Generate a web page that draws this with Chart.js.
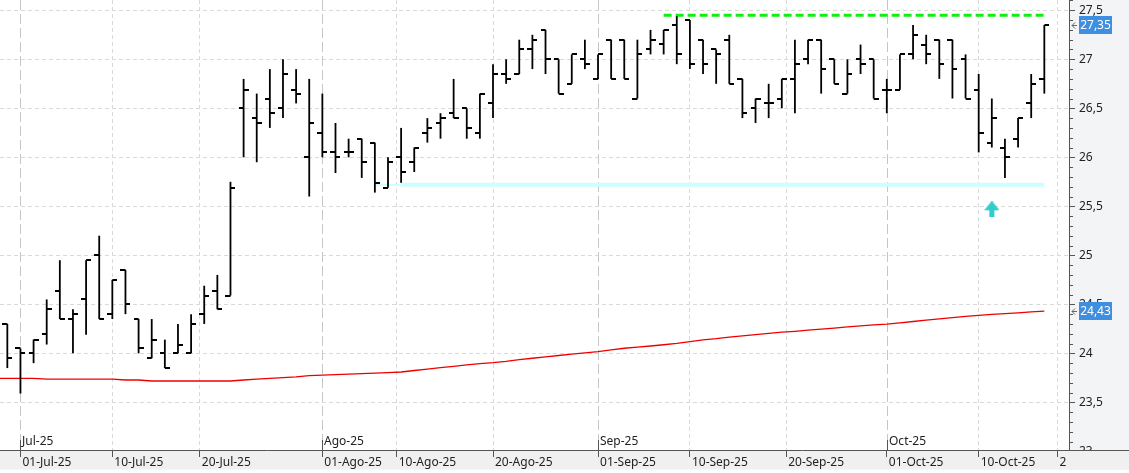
<!DOCTYPE html>
<html><head><meta charset="utf-8">
<script src="https://cdn.jsdelivr.net/npm/chart.js@4/dist/chart.umd.min.js"></script>
<style>html,body{margin:0;padding:0;background:#fff;overflow:hidden}canvas{display:block}</style>
</head><body>
<canvas id="c" width="1129" height="473"></canvas>
<script>
// ---------- DATA ----------
const sessions = [
 '2025-06-30','2025-07-01','2025-07-02','2025-07-03','2025-07-04',
 '2025-07-07','2025-07-08','2025-07-09','2025-07-10','2025-07-11',
 '2025-07-14','2025-07-15','2025-07-16','2025-07-17','2025-07-18',
 '2025-07-21','2025-07-22','2025-07-23','2025-07-24','2025-07-25',
 '2025-07-28','2025-07-29','2025-07-30','2025-07-31','2025-08-01',
 '2025-08-04','2025-08-05','2025-08-06','2025-08-07','2025-08-08',
 '2025-08-11','2025-08-12','2025-08-13','2025-08-14','2025-08-15',
 '2025-08-18','2025-08-19','2025-08-20','2025-08-21','2025-08-22',
 '2025-08-25','2025-08-26','2025-08-27','2025-08-28','2025-08-29',
 '2025-09-01','2025-09-02','2025-09-03','2025-09-04','2025-09-05',
 '2025-09-08','2025-09-09','2025-09-10','2025-09-11','2025-09-12',
 '2025-09-15','2025-09-16','2025-09-17','2025-09-18','2025-09-19',
 '2025-09-22','2025-09-23','2025-09-24','2025-09-25','2025-09-26',
 '2025-09-29','2025-09-30','2025-10-01','2025-10-02','2025-10-03',
 '2025-10-06','2025-10-07','2025-10-08','2025-10-09','2025-10-10',
 '2025-10-13','2025-10-14','2025-10-15','2025-10-16','2025-10-17'
];
const open = [
 24.30,24.05,24.00,24.20,24.64, 24.35,24.55,25.00,24.40,24.85,
 24.35,23.95,24.00,24.00,24.00, 24.40,24.64,24.59,26.50,26.40,
 26.60,26.50,26.69,26.00,26.25, 26.05,26.05,26.19,26.15,25.69,
 26.00,25.95,26.25,26.35,26.45, 26.50,26.25,26.55,26.85,26.85,
 27.10,27.30,27.00,26.75,27.00, 26.80,27.20,27.20,26.60,27.10,
 27.16,27.35,27.40,27.20,27.10, 27.20,26.80,26.50,26.55,26.60,
 26.80,27.00,27.20,27.00,26.65, 27.00,27.00,26.69,26.69,27.05,
 27.15,27.20,27.20,27.00,26.69, 26.15,26.10,26.19,26.55,26.80
];
const high = [
 24.30,24.05,24.14,24.55,24.95, 24.45,24.95,25.20,24.75,24.85,
 24.35,24.35,24.14,24.30,24.40, 24.69,24.80,25.75,26.80,26.65,
 26.90,27.00,26.90,26.80,26.65, 26.35,26.19,26.19,26.15,26.00,
 26.30,26.10,26.40,26.45,26.80, 26.50,26.65,26.95,27.00,27.20,
 27.25,27.30,27.00,27.05,27.20, 27.05,27.20,27.20,27.20,27.30,
 27.30,27.44,27.40,27.20,27.10, 27.25,26.80,26.60,26.75,26.80,
 27.20,27.20,27.20,27.00,27.00, 27.15,27.00,26.80,27.05,27.35,
 27.25,27.20,27.20,27.05,26.85, 26.60,26.19,26.40,26.85,27.35
];
const low = [
 23.85,23.59,23.90,24.09,24.35, 24.00,24.19,24.35,24.35,24.40,
 24.00,23.95,23.85,24.00,24.00, 24.30,24.45,24.59,26.00,25.95,
 26.30,26.40,26.55,25.60,26.00, 25.84,26.00,25.79,25.64,25.69,
 25.74,25.85,26.15,26.19,26.40, 26.19,26.19,26.40,26.75,26.85,
 26.90,26.85,26.65,26.75,26.90, 26.80,26.80,26.80,26.60,27.05,
 27.05,26.95,26.90,26.85,26.75, 26.75,26.40,26.35,26.40,26.50,
 26.45,26.95,26.65,26.75,26.65, 26.85,26.60,26.45,26.69,27.00,
 26.95,26.80,26.60,26.60,26.05, 26.10,25.79,26.10,26.40,26.65
];
const close = [
 23.95,24.00,24.14,24.45,24.35, 24.40,24.95,24.35,24.75,24.50,
 24.05,24.14,23.85,24.09,24.30, 24.59,24.45,25.69,26.69,26.35,
 26.45,26.85,26.65,26.35,26.05, 26.00,26.05,25.95,25.74,25.95,
 25.85,26.10,26.30,26.40,26.40, 26.30,26.65,26.85,26.80,27.10,
 27.20,27.00,26.65,27.05,26.95, 27.05,26.80,26.80,27.05,27.20,
 27.30,27.05,26.95,26.95,27.05, 26.75,26.45,26.60,26.55,26.80,
 26.95,27.20,26.90,26.75,26.85, 26.95,26.60,26.69,27.05,27.25,
 27.05,26.95,26.90,26.60,26.25, 26.40,26.00,26.40,26.75,27.35
];
const ma200Before = 23.745; // session before 30-Jun-25
const ma200 = [
 23.745,23.745,23.745,23.738,23.738, 23.738,23.738,23.738,23.738,23.728,
 23.728,23.718,23.718,23.718,23.718, 23.718,23.718,23.718,23.728,23.738,
 23.745,23.752,23.760,23.772,23.778, 23.784,23.788,23.793,23.798,23.803,
 23.810,23.825,23.840,23.854,23.868, 23.883,23.895,23.905,23.918,23.935,
 23.950,23.964,23.978,23.992,24.005, 24.017,24.035,24.052,24.064,24.075,
 24.088,24.102,24.120,24.138,24.150, 24.165,24.178,24.191,24.204,24.216,
 24.225,24.236,24.247,24.258,24.270, 24.280,24.290,24.299,24.312,24.325,
 24.338,24.352,24.364,24.377,24.388, 24.398,24.405,24.414,24.423,24.430
];
const resistanceLevel = 27.45, resistanceFrom = '2025-09-08', resistanceTo = '2025-10-17';
const supportLevel = 25.72, supportFrom = '2025-08-07', supportMid = '2025-08-11', supportTo = '2025-10-17';
const signalDate = '2025-10-13', signalLevel = 25.47;
const dayTickDates = ['2025-07-01','2025-07-10','2025-07-20','2025-08-01','2025-08-10','2025-08-20',
                      '2025-09-01','2025-09-10','2025-09-20','2025-10-01','2025-10-10','2025-10-20'];
const dayTickLabels = ['01-Jul-25','10-Jul-25','20-Jul-25','01-Ago-25','10-Ago-25','20-Ago-25',
                       '01-Sep-25','10-Sep-25','20-Sep-25','01-Oct-25','10-Oct-25','20-Oct-25'];
const monthTickDates = ['2025-07-01','2025-08-01','2025-09-01','2025-10-01'];
const monthTickLabels = ['Jul-25','Ago-25','Sep-25','Oct-25'];
const yMajorTicks = [23, 23.5, 24, 24.5, 25, 25.5, 26, 26.5, 27, 27.5];

// ---------- helpers ----------
const DAY = 86400000;
const sessT = sessions.map(s => Date.parse(s + 'T00:00:00Z'));
function dateToIndex(d) {
  const t = Date.parse(d + 'T00:00:00Z');
  for (let i = 0; i < sessT.length; i++) {
    if (sessT[i] === t) return i;
    if (sessT[i] > t) return i - 1 + (t - sessT[i - 1]) / (sessT[i] - sessT[i - 1]);
  }
  let idx = sessT.length - 1, cur = sessT[sessT.length - 1];
  while (cur < t) { cur += DAY; const wd = new Date(cur).getUTCDay(); if (wd !== 0 && wd !== 6) idx++; }
  return idx;
}
const fmt = v => String(+v.toFixed(2)).replace('.', ',');
const dayTickPos = dayTickDates.map(dateToIndex);
const monthTickPos = monthTickDates.map(dateToIndex);
const isMonthPos = v => monthTickPos.some(m => Math.abs(m - v) < 1e-6);

function tickImg(side) {
  const c = document.createElement('canvas'); c.width = 10; c.height = 2;
  const g = c.getContext('2d'); g.fillStyle = '#000';
  if (side === 'L') g.fillRect(0, 0, 5, 2); else g.fillRect(5, 0, 5, 2);
  return c;
}
function arrowImg() {
  const c = document.createElement('canvas'); c.width = 15; c.height = 16;
  const g = c.getContext('2d'); g.fillStyle = '#33cccc';
  g.beginPath(); g.moveTo(7, 0); g.lineTo(8, 0); g.lineTo(15, 9); g.lineTo(0, 9); g.closePath(); g.fill();
  g.fillRect(5, 9, 5, 7);
  return c;
}

const rangeData = sessions.map((d, i) => ({x: i, y: [low[i], high[i]]}));
const openData = sessions.map((d, i) => ({x: i, y: open[i]}));
const closeData = sessions.map((d, i) => ({x: i, y: close[i]}));
const maData = [{x: -1, y: ma200Before}].concat(ma200.map((v, i) => ({x: i, y: v})));
const resData = [{x: dateToIndex(resistanceFrom), y: resistanceLevel}, {x: dateToIndex(resistanceTo), y: resistanceLevel}];
const supThin = [{x: dateToIndex(supportFrom), y: supportLevel}, {x: dateToIndex(supportMid), y: supportLevel}];
const supThick = [{x: dateToIndex(supportMid), y: supportLevel}, {x: dateToIndex(supportTo), y: supportLevel}];
const sigData = [{x: dateToIndex(signalDate), y: signalLevel}];

Chart.defaults.font.family = "'Noto Sans', 'DejaVu Sans', sans-serif";
Chart.defaults.font.size = 12;

const PANEL = '#f3f4f6', BAND = '#f0f0f0', AXIS = '#555555', GRID = '#d9d9d9', TEXT = '#222222';

const deco = {
  id: 'deco',
  beforeDraw(chart) {
    const {ctx, chartArea: a, width, height} = chart;
    ctx.save();
    ctx.fillStyle = '#ffffff'; ctx.fillRect(0, 0, width, height);
    ctx.fillStyle = PANEL; ctx.fillRect(a.right, 0, width - a.right, a.bottom);
    ctx.fillStyle = BAND; ctx.fillRect(0, a.bottom, width, 19.5);
    ctx.restore();
  },
  beforeDatasetsDraw(chart) {
    const {ctx, chartArea: a, scales: {x}} = chart;
    ctx.save();
    ctx.strokeStyle = '#c6c6c6'; ctx.lineWidth = 1; ctx.setLineDash([10, 4]);
    monthTickPos.forEach(m => {
      const px = Math.round(x.getPixelForValue(m)) + 0.5;
      ctx.beginPath(); ctx.moveTo(px, a.top); ctx.lineTo(px, a.bottom - 10); ctx.stroke();
    });
    ctx.restore();
  },
  afterDraw(chart) {
    const {ctx, chartArea: a, scales: {x, y}, width} = chart;
    ctx.save();
    // the last date label is cut by the price panel
    ctx.fillStyle = BAND; ctx.fillRect(a.right - 3, a.bottom + 1, width - a.right + 3, 18.5);
    ctx.strokeStyle = AXIS; ctx.lineWidth = 1;
    ctx.beginPath(); ctx.moveTo(a.right, a.bottom + 0.5); ctx.lineTo(width, a.bottom + 0.5); ctx.stroke();
    // minor ticks on price axis
    for (let k = 231; k <= 276; k++) {
      if (k % 5 === 0) continue;
      const py = Math.round(y.getPixelForValue(k / 10)) + 0.5;
      if (py < a.top || py > a.bottom) continue;
      ctx.beginPath(); ctx.moveTo(a.right, py); ctx.lineTo(a.right + 4, py); ctx.stroke();
    }
    // month ticks + labels
    ctx.fillStyle = TEXT; ctx.font = "12px 'Noto Sans', 'DejaVu Sans', sans-serif";
    ctx.textAlign = 'left'; ctx.textBaseline = 'middle';
    monthTickPos.forEach((m, i) => {
      const px = Math.round(x.getPixelForValue(m)) + 0.5;
      ctx.beginPath(); ctx.moveTo(px, a.bottom - 10); ctx.lineTo(px, a.bottom); ctx.stroke();
      ctx.fillText(monthTickLabels[i], px + 1.5, a.bottom - 8.5);
    });
    // last value tags
    const tag = v => {
      const py = y.getPixelForValue(v);
      ctx.fillStyle = '#3f8fe0';
      ctx.fillRect(a.right + 10, Math.round(py) - 9, 33, 18);
      ctx.fillStyle = '#ffffff'; ctx.textAlign = 'center';
      ctx.fillText(fmt(v), a.right + 26.5, Math.round(py) + 0.5);
      ctx.strokeStyle = '#666'; ctx.lineWidth = 1;
      const yy = Math.round(py) + 0.5;
      ctx.beginPath();
      ctx.moveTo(a.right + 6, yy - 3); ctx.lineTo(a.right + 3, yy); ctx.lineTo(a.right + 6, yy + 3);
      ctx.moveTo(a.right + 3, yy); ctx.lineTo(a.right + 8, yy);
      ctx.stroke();
    };
    tag(close[close.length - 1]);
    tag(ma200[ma200.length - 1]);
    ctx.restore();
  }
};

new Chart(document.getElementById('c'), {
  type: 'bar',
  data: {
    datasets: [
      {type: 'scatter', data: openData, pointStyle: tickImg('L'), pointRadius: 3, order: 0},
      {type: 'scatter', data: closeData, pointStyle: tickImg('R'), pointRadius: 3, order: 0},
      {type: 'bar', data: rangeData, backgroundColor: '#000000', barThickness: 1.8, borderWidth: 0, inflateAmount: 0, order: 1},
      {type: 'line', data: maData, borderColor: '#ee0000', borderWidth: 1.3, pointRadius: 0, fill: false, tension: 0, order: 3},
      {type: 'line', data: resData, borderColor: '#11ee11', borderWidth: 3, borderDash: [8, 4], borderCapStyle: 'butt', pointRadius: 0, fill: false, order: 4},
      {type: 'line', data: supThin, borderColor: '#ccffff', borderWidth: 2, pointRadius: 0, fill: false, order: 5},
      {type: 'line', data: supThick, borderColor: '#ccffff', borderWidth: 4, pointRadius: 0, fill: false, order: 5},
      {type: 'scatter', data: sigData, pointStyle: arrowImg(), pointRadius: 5, order: 2}
    ]
  },
  options: {
    responsive: false,
    animation: false,
    events: [],
    layout: {padding: 0, autoPadding: false},
    plugins: {legend: {display: false}, tooltip: {enabled: false}},
    scales: {
      x: {
        type: 'linear', position: 'bottom', min: -0.558, max: 80.88, offset: false,
        afterBuildTicks: s => { s.ticks = dayTickPos.map(v => ({value: v})); },
        afterFit: s => { s.height = 23; s.paddingLeft = 0; s.paddingRight = 0; },
        ticks: {autoSkip: false, maxRotation: 0, minRotation: 0, align: 'start', labelOffset: 2, padding: -2,
                color: TEXT, callback: (v, i) => dayTickLabels[i]},
        grid: {offset: false, color: c => (c.tick && isMonthPos(c.tick.value)) ? 'rgba(0,0,0,0)' : GRID,
               tickColor: AXIS, tickLength: 7, lineWidth: 1},
        border: {color: AXIS, width: 1, dash: [4, 3]}
      },
      y: {
        type: 'linear', position: 'right', min: 23.014, max: 27.605,
        afterBuildTicks: s => { s.ticks = yMajorTicks.map(v => ({value: v})); },
        afterFit: s => { s.width = 60; s.paddingTop = 0; s.paddingBottom = 0; },
        ticks: {padding: 4, color: TEXT, callback: v => fmt(v)},
        grid: {color: c => (c.tick && c.tick.value > 23.01) ? GRID : 'rgba(0,0,0,0)',
               tickColor: c => (c.tick && c.tick.value > 23.01) ? AXIS : 'rgba(0,0,0,0)', tickLength: 6, lineWidth: 1},
        border: {color: AXIS, width: 1, dash: [4, 3]}
      }
    }
  },
  plugins: [deco]
});
</script>
</body></html>
